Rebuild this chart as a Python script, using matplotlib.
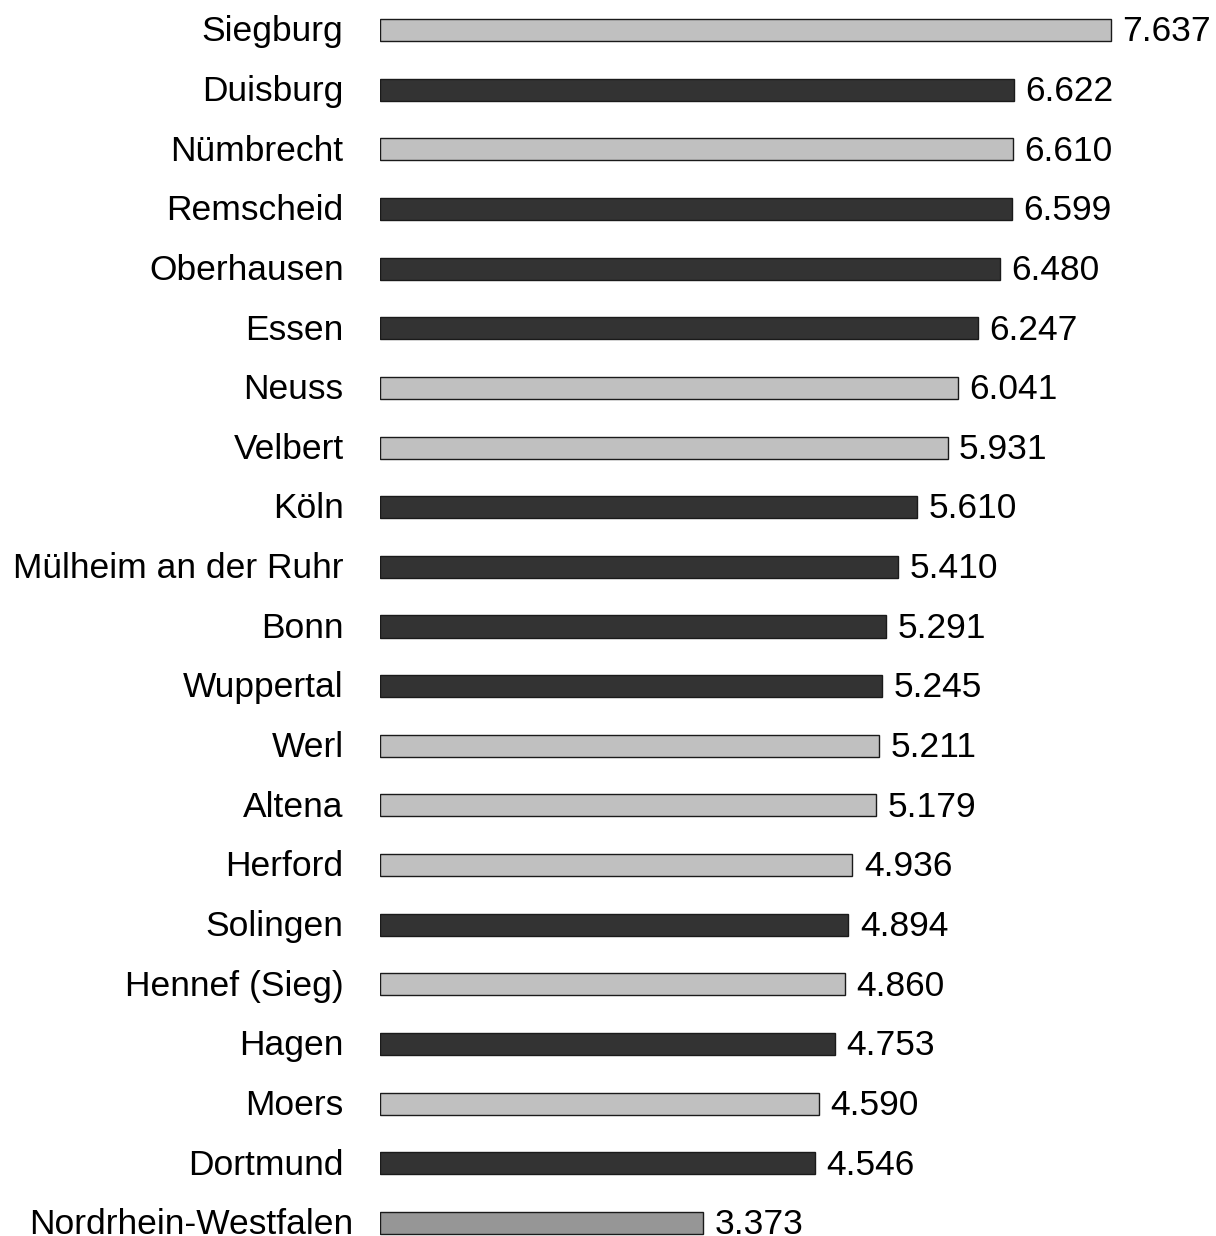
import matplotlib.pyplot as plt

plt.rcParams["font.family"] = ["Liberation Sans", "DejaVu Sans"]

cities = [
    "Siegburg", "Duisburg", "Nümbrecht", "Remscheid", "Oberhausen", "Essen",
    "Neuss", "Velbert", "Köln", "Mülheim an der Ruhr", "Bonn", "Wuppertal",
    "Werl", "Altena", "Herford", "Solingen", "Hennef (Sieg)", "Hagen",
    "Moers", "Dortmund", "Nordrhein-Westfalen",
]
values = [
    7.637, 6.622, 6.610, 6.599, 6.480, 6.247, 6.041, 5.931, 5.610, 5.410,
    5.291, 5.245, 5.211, 5.179, 4.936, 4.894, 4.860, 4.753, 4.590, 4.546,
    3.373,
]
# "city" = kreisfreie Stadt, "town" = kreisangehörig, "state" = Landeswert
kinds = [
    "town", "city", "town", "city", "city", "city", "town", "town", "city",
    "city", "city", "city", "town", "town", "town", "city", "town", "city",
    "town", "city", "state",
]

colors = {"town": "#c0c0c0", "city": "#333333", "state": "#969696"}

fig = plt.figure(figsize=(12.16, 12.36), dpi=100)
ax = fig.add_axes([380 / 1216, 0, 1 - 380 / 1216, 1])

y = list(range(len(cities)))
ax.barh(y, values, height=0.37, color=[colors[k] for k in kinds],
        edgecolor="#1a1a1a", linewidth=1.0)

ax.set_xlim(0, (1216 - 380) / 95.7)
ax.set_ylim((1236 - 30) / 59.65, -30 / 59.65)

for i, (name, v) in enumerate(zip(cities, values)):
    ty = i + 0.03
    ax.text(v + 0.12, ty, f"{v:.3f}", va="center", ha="left", fontsize=25.5)
    ax.text(-0.38 if i < len(cities) - 1 else -0.28, ty, name,
            va="center", ha="right", fontsize=25.5)

ax.axis("off")
fig.savefig("out.png", dpi=100)
